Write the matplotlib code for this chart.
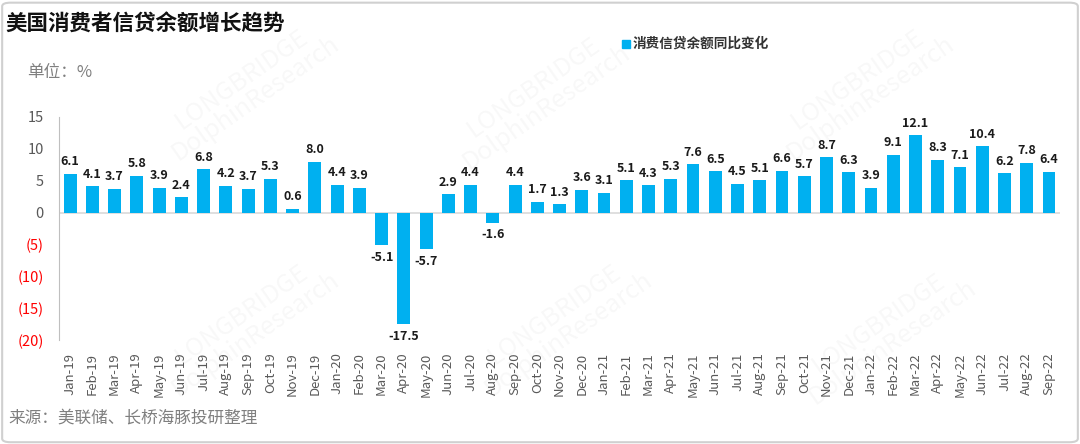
import numpy as np
import matplotlib.pyplot as plt
from matplotlib.patches import FancyBboxPatch

plt.rcParams['font.family'] = ['Noto Sans CJK SC', 'DejaVu Sans']

months = ['Jan-19', 'Feb-19', 'Mar-19', 'Apr-19', 'May-19', 'Jun-19', 'Jul-19', 'Aug-19',
          'Sep-19', 'Oct-19', 'Nov-19', 'Dec-19',
          'Jan-20', 'Feb-20', 'Mar-20', 'Apr-20', 'May-20', 'Jun-20', 'Jul-20', 'Aug-20',
          'Sep-20', 'Oct-20', 'Nov-20', 'Dec-20',
          'Jan-21', 'Feb-21', 'Mar-21', 'Apr-21', 'May-21', 'Jun-21', 'Jul-21', 'Aug-21',
          'Sep-21', 'Oct-21', 'Nov-21', 'Dec-21',
          'Jan-22', 'Feb-22', 'Mar-22', 'Apr-22', 'May-22', 'Jun-22', 'Jul-22', 'Aug-22',
          'Sep-22']
yoy = [6.1, 4.1, 3.7, 5.8, 3.9, 2.4, 6.8, 4.2, 3.7, 5.3, 0.6, 8.0,
       4.4, 3.9, -5.1, -17.5, -5.7, 2.9, 4.4, -1.6, 4.4, 1.7, 1.3, 3.6,
       3.1, 5.1, 4.3, 5.3, 7.6, 6.5, 4.5, 5.1, 6.6, 5.7, 8.7, 6.3,
       3.9, 9.1, 12.1, 8.3, 7.1, 10.4, 6.2, 7.8, 6.4]
yticks = [15, 10, 5, 0, -5, -10, -15, -20]

blue = '#00B0F0'
grey = '#595959'

fig = plt.figure(figsize=(10.8, 4.44), dpi=100)
ax = fig.add_axes([0.0546, 0.234, 0.927, 0.5025])

x = np.arange(len(months))
ax.bar(x, yoy, width=0.58, color=blue, zorder=3)
ax.axhline(0, color='#D9D9D9', lw=1.2, zorder=2)

for xi, v in zip(x, yoy):
    if v >= 0:
        ax.annotate(f'{v:.1f}', (xi, v), xytext=(0, 4), textcoords='offset points',
                    ha='center', va='bottom', fontsize=9, fontweight='bold', color='#1a1a1a')
    else:
        ax.annotate(f'{v:.1f}', (xi, v), xytext=(0, -4), textcoords='offset points',
                    ha='center', va='top', fontsize=9, fontweight='bold', color='#1a1a1a')

ax.set_xlim(-0.5, len(months) - 0.5)
ax.set_ylim(-20, 15)
ax.tick_params(axis='y', length=0, pad=11)
ax.set_yticks(yticks)
ax.set_yticklabels([str(t) if t >= 0 else f'({-t})' for t in yticks], fontsize=10.5)

ax.set_xticks(x)
ax.tick_params(axis='x', length=0, pad=9)
ax.set_xticklabels(months, rotation=90, fontsize=9.5, color=grey)

for lbl, t in zip(ax.get_yticklabels(), yticks):
    lbl.set_color('#FF0000' if t < 0 else grey)

for s in ['top', 'right', 'bottom']:
    ax.spines[s].set_visible(False)
ax.spines['left'].set_color('#BFBFBF')

# watermarks
for wx, wy in [(0.23, 0.80), (0.50, 0.78), (0.80, 0.80), (0.23, 0.27), (0.52, 0.27), (0.82, 0.25)]:
    fig.text(wx, wy, 'LONGBRIDGE\nDolphinResearch', fontsize=18, color='#000000', alpha=0.03,
             rotation=35, ha='center', va='center', linespacing=0.9)

fig.text(0.005, 0.945, '美国消费者信贷余额增长趋势', fontsize=15.5, fontweight='bold',
         color='#111111', va='center')
fig.text(0.025, 0.836, '单位：%', fontsize=12, color='#7f7f7f', va='center')
fig.patches.append(plt.Rectangle((0.5755, 0.893), 0.0075, 0.018, transform=fig.transFigure,
                                 color=blue))
fig.text(0.586, 0.902, '消费信贷余额同比变化', fontsize=9.8, fontweight='bold',
         color='#333333', va='center')
fig.text(0.008, 0.059, '来源：美联储、长桥海豚投研整理', fontsize=12, color='#7f7f7f', va='center')

fig.patches.append(FancyBboxPatch((0.002, 0.004), 0.996, 0.99, boxstyle='round,pad=0,rounding_size=0.008',
                                  transform=fig.transFigure, fill=False, ec='#D0D0D0', lw=1.5))

fig.savefig('out.png', dpi=100)
